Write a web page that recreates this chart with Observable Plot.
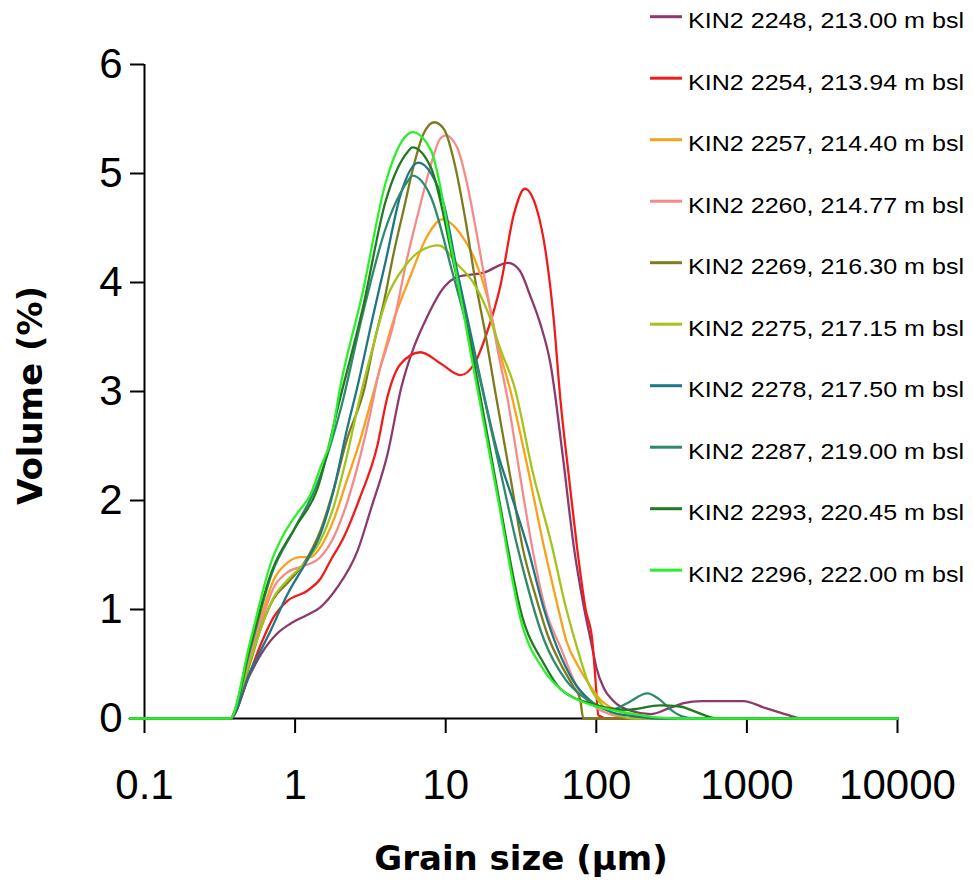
<!DOCTYPE html>
<html>
<head>
<meta charset="utf-8">
<script src="https://cdn.jsdelivr.net/npm/d3@7"></script>
<script src="https://cdn.jsdelivr.net/npm/@observablehq/plot@0.6"></script>
<style>
  body { margin: 0; background: #fff; }
  #wrap { position: relative; width: 973px; height: 888px; background: #fff; }
  #legend { position: absolute; left: 0; top: 0; pointer-events: none; }
</style>
</head>
<body>
<div id="wrap"></div>
<script>
// ---- data (grain size in µm, volume in %) ----
const labels = [
  "KIN2 2248, 213.00 m bsl",
  "KIN2 2254, 213.94 m bsl",
  "KIN2 2257, 214.40 m bsl",
  "KIN2 2260, 214.77 m bsl",
  "KIN2 2269, 216.30 m bsl",
  "KIN2 2275, 217.15 m bsl",
  "KIN2 2278, 217.50 m bsl",
  "KIN2 2287, 219.00 m bsl",
  "KIN2 2293, 220.45 m bsl",
  "KIN2 2296, 222.00 m bsl"
];
const colors = ["#8b3a6b", "#f01c1c", "#f9a11b", "#f58a8a", "#7d7b1d",
                "#a3c41c", "#1f7686", "#2e8a6c", "#1f7a22", "#2def2d"];

const xTicks = [0.1, 1, 10, 100, 1000, 10000];
const xTickLabels = ["0.1", "1", "10", "100", "1000", "10000"];
const yTicks = [0, 1, 2, 3, 4, 5, 6];
const yTickLabels = ["0", "1", "2", "3", "4", "5", "6"];

const kin2248 = [[0.08,0],[0.37,0],[0.5,0.4],[0.6,0.6],[0.76,0.78],[0.93,0.87],[1.2,0.95],[1.47,1.02],[1.9,1.2],[2.6,1.54],[3.2,1.93],[4.1,2.42],[5.1,3.05],[6.2,3.42],[7.5,3.68],[9.8,3.96],[11.9,4.05],[17.9,4.09],[26,4.18],[31,4.11],[36.6,3.87],[42.5,3.62],[49.7,3.25],[60,2.4],[71,1.57],[82,1.05],[94,0.65],[100,0.47],[112,0.28],[128,0.17],[170,0.07],[230,0.04],[300,0.09],[380,0.14],[500,0.16],[950,0.16],[1300,0.1],[1700,0.05],[2000,0.02],[2300,0],[10000,0]];
const kin2254 = [[0.08,0],[0.37,0],[0.5,0.42],[0.6,0.7],[0.72,0.93],[0.89,1.08],[1.2,1.17],[1.47,1.28],[1.72,1.45],[2.1,1.66],[2.7,2.03],[3.5,2.49],[4.1,2.95],[5.0,3.25],[6.8,3.36],[9.2,3.26],[12.5,3.15],[15.4,3.25],[18.9,3.55],[23,3.96],[28.4,4.63],[33.5,4.86],[40.5,4.66],[46,4.29],[52,3.68],[57.8,2.92],[66,2.2],[74.5,1.57],[85,1.0],[94,0.72],[97,0.5],[100,0.25],[103,0.03],[120,0],[10000,0]];
const kin2257 = [[0.08,0],[0.37,0],[0.5,0.6],[0.6,0.95],[0.72,1.27],[0.89,1.43],[1.09,1.48],[1.27,1.48],[1.47,1.57],[1.8,1.82],[2.2,2.18],[2.7,2.55],[3.3,2.98],[4.5,3.65],[5.8,4.05],[7.5,4.42],[9.5,4.58],[12.5,4.45],[15.4,4.23],[18.9,3.87],[22,3.45],[27,3.0],[35,2.3],[45,1.57],[55,1.05],[63,0.72],[78,0.45],[91,0.3],[107,0.17],[125,0.1],[180,0.03],[250,0],[10000,0]];
const kin2260 = [[0.08,0],[0.37,0],[0.5,0.55],[0.6,0.9],[0.72,1.2],[0.89,1.34],[1.14,1.4],[1.47,1.48],[1.8,1.66],[2.2,1.97],[2.7,2.4],[3.16,2.8],[3.5,3.1],[4.5,3.62],[5.5,4.2],[6.8,4.72],[7.9,5.06],[9.2,5.32],[10,5.35],[11.9,5.24],[13.9,4.9],[16.2,4.42],[18.9,3.9],[22,3.4],[26,2.9],[31,2.25],[37.5,1.57],[46,1.0],[58,0.65],[75,0.28],[100,0.1],[130,0.03],[170,0],[10000,0]];
const kin2269 = [[0.08,0],[0.37,0],[0.5,0.5],[0.6,0.85],[0.72,1.1],[0.9,1.25],[1.14,1.42],[1.47,1.72],[1.8,2.1],[2.2,2.55],[2.9,3.04],[3.3,3.41],[3.9,3.83],[4.5,4.26],[5.3,4.69],[6.1,5.06],[7.1,5.36],[8.4,5.47],[9.8,5.4],[11.5,5.08],[13.5,4.58],[15.8,4.0],[18.5,3.5],[21,3.05],[27,2.2],[32.4,1.57],[40,1.1],[48,0.75],[58,0.5],[70,0.3],[78,0.18],[82,0],[10000,0]];
const kin2275 = [[0.08,0],[0.37,0],[0.5,0.52],[0.6,0.85],[0.72,1.11],[0.89,1.27],[1.2,1.45],[1.47,1.63],[1.8,1.94],[2.2,2.4],[2.7,2.95],[3.16,3.32],[4.1,3.87],[5.3,4.14],[6.8,4.29],[9,4.34],[11.9,4.17],[15.4,3.99],[18.9,3.74],[23.2,3.38],[28.5,3.05],[38,2.25],[51,1.57],[62,1.05],[74.5,0.65],[90,0.3],[110,0.12],[140,0.03],[180,0],[10000,0]];
const kin2278 = [[0.08,0],[0.37,0],[0.5,0.42],[0.69,0.81],[0.89,1.14],[1.2,1.45],[1.47,1.69],[1.8,2.09],[2.2,2.64],[2.6,3.05],[3.3,3.7],[4,4.2],[5,4.8],[6.6,5.1],[8,5.0],[9.8,4.7],[11.9,4.11],[13.9,3.68],[16.2,3.25],[22,2.45],[28,2.0],[35,1.57],[45,1.0],[55,0.65],[70,0.35],[90,0.17],[125,0.06],[180,0.02],[250,0],[10000,0]];
const kin2287 = [[0.08,0],[0.37,0],[0.5,0.62],[0.7,1.33],[1,1.75],[1.4,2.15],[2,2.83],[2.8,3.7],[4,4.5],[5.6,4.93],[6,4.98],[8,4.78],[11,4.11],[16,3.25],[22,2.4],[30,1.57],[45,0.72],[63,0.35],[90,0.16],[125,0.08],[160,0.14],[218,0.23],[260,0.18],[320,0.07],[370,0.02],[450,0],[10000,0]];
const kin2293 = [[0.08,0],[0.37,0],[0.5,0.65],[0.7,1.35],[1,1.75],[1.4,2.1],[2,2.95],[2.8,3.75],[4,4.75],[5.6,5.2],[6,5.24],[8,5.05],[11,4.25],[16,3.15],[22,2.1],[32,0.95],[45,0.5],[58,0.27],[96,0.13],[160,0.08],[266,0.12],[360,0.11],[440,0.07],[640,0],[10000,0]];
const kin2296 = [[0.08,0],[0.37,0],[0.5,0.69],[0.7,1.45],[0.84,1.69],[1.03,1.88],[1.27,2.06],[1.47,2.3],[1.72,2.55],[2,3.05],[2.8,3.9],[4,4.92],[5.6,5.36],[6,5.38],[8,5.21],[11,4.29],[16,3.07],[22,2.05],[32,0.87],[45,0.44],[63,0.23],[90,0.13],[125,0.08],[180,0.04],[250,0.01],[350,0],[10000,0]];

const seriesData = [kin2248, kin2254, kin2257, kin2260, kin2269, kin2275, kin2278, kin2287, kin2293, kin2296];

// ---- build table ----
const rows = seriesData.flatMap((arr, i) => arr.map(([size, vol]) => ({series: labels[i], size, vol})));

const sansFont = "'Liberation Sans', Arial, sans-serif";
const titleFont = "'DejaVu Sans', sans-serif";

const chart = Plot.plot({
  width: 973,
  height: 888,
  marginLeft: 144,
  marginRight: 76,
  marginTop: 64,
  marginBottom: 170,
  style: {fontFamily: sansFont, color: "#000", background: "#fff", overflow: "visible"},
  x: {type: "log", domain: [0.1, 10000]},
  y: {domain: [0, 6]},
  color: {domain: labels, range: colors},
  marks: [
    Plot.axisX({ticks: xTicks, tickFormat: (d) => xTickLabels[xTicks.indexOf(d)], tickSize: 15, tickPadding: 36, fontSize: 42, strokeWidth: 2, label: null}),
    Plot.axisY({ticks: yTicks, tickFormat: (d) => yTickLabels[yTicks.indexOf(d)], tickSize: 14, tickPadding: 8, fontSize: 42, strokeWidth: 2, label: null}),
    Plot.ruleX([0.1], {y1: 0, y2: 6, strokeWidth: 2, stroke: "#000"}),
    Plot.ruleY([0], {strokeWidth: 2, stroke: "#000"}),
    Plot.line(rows, {x: "size", y: "vol", z: "series", stroke: "series", strokeWidth: 2.3, curve: "monotone-x"}),
    Plot.text(["Grain size (µm)"], {frameAnchor: "bottom", textAnchor: "middle", lineAnchor: "middle", dy: 141, fontSize: 34, fontWeight: "bold", fontFamily: titleFont, fill: "#000"}),
    Plot.text(["Volume (%)"], {frameAnchor: "left", textAnchor: "middle", lineAnchor: "middle", dx: -113, dy: 4, rotate: -90, fontSize: 34, fontWeight: "bold", fontFamily: titleFont, fill: "#000"})
  ]
});

const wrap = document.getElementById("wrap");
wrap.appendChild(chart);

// ---- legend overlay ----
const leg = d3.select(wrap).append("svg")
  .attr("id", "legend")
  .attr("width", 973).attr("height", 888);
labels.forEach((lab, i) => {
  const cy = 16.7 + 61.5 * i;
  const g = leg.append("g");
  g.append("line").attr("x1", 650).attr("x2", 682).attr("y1", cy).attr("y2", cy)
    .attr("stroke", colors[i]).attr("stroke-width", 3);
  g.append("text").attr("x", 688).attr("y", cy + 11.5)
    .attr("font-family", sansFont).attr("font-size", 22)
    .attr("textLength", 276).attr("lengthAdjust", "spacingAndGlyphs")
    .attr("fill", "#000").text(lab);
});
</script>
</body>
</html>
